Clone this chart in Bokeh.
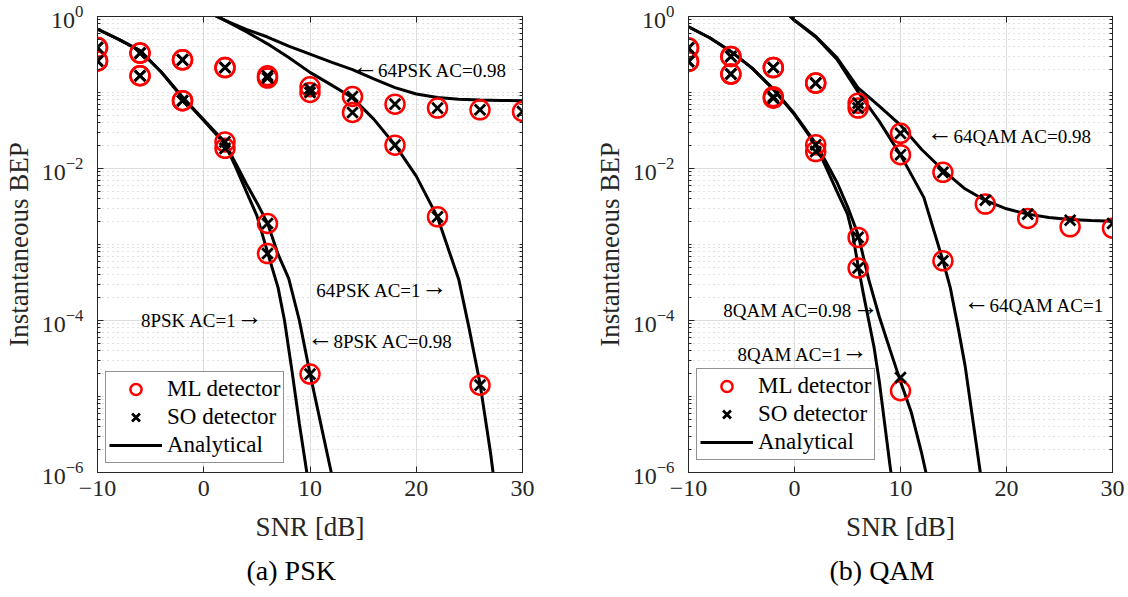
from bokeh.plotting import figure
from bokeh.models import (FixedTicker, LinearAxis, LogAxis, Legend, LegendItem,
                          Label, ColumnDataSource, Range1d, Title)
from bokeh.layouts import row
from bokeh.embed import file_html
from bokeh.resources import INLINE

FONT = "Liberation Serif"
AX = "#262626"

# ---------------- ticks ----------------
x_ticks = [-10, 0, 10, 20, 30]
y_ticks = [1e-6, 1e-4, 1e-2, 1e0]
y_minor = [m * 10.0 ** k for k in range(-6, 0) for m in range(1, 10)
           if not (m == 1 and k % 2 == 0)]

# ---------------- (a) PSK : analytical curves ----------------
psk8_ac1_snr = [-10, -8, -6, -4, -2, 0, 2, 3, 4, 5, 6, 7, 7.6, 8.3, 9, 9.7, 10.2]
psk8_ac1_bep = [0.682, 0.501, 0.355, 0.186, 0.0851, 0.0427, 0.0209, 0.0105, 5.01e-3,
                2.40e-3, 7.94e-4, 2.69e-4, 1.0e-4, 2.19e-5, 4.37e-6, 1.0e-6, 3.16e-7]
psk8_ac098_snr = [-10, -8, -6, -4, -2, 0, 2, 3, 4, 5, 6, 7, 8, 9, 10, 11, 12, 12.5]
psk8_ac098_bep = [0.682, 0.501, 0.355, 0.186, 0.0871, 0.0437, 0.0219, 0.0117, 6.31e-3,
                  3.55e-3, 1.91e-3, 7.41e-4, 3.55e-4, 1.0e-4, 2.0e-5, 4.47e-6, 1.0e-6, 4.47e-7]
psk64_ac1_snr = [1.0, 2, 4, 6, 8, 10, 12, 14, 16, 18, 20, 22, 24, 25, 26, 27, 27.5]
psk64_ac1_bep = [1.04, 0.891, 0.631, 0.437, 0.288, 0.184, 0.126, 0.0851, 0.0447, 0.0204,
                 7.94e-3, 2.29e-3, 3.47e-4, 7.59e-5, 1.48e-5, 1.78e-6, 5.01e-7]
psk64_ac098_snr = [1.0, 2, 4, 6, 8, 10, 12, 14, 16, 18, 20, 22, 24, 26, 28, 30]
psk64_ac098_bep = [1.04, 0.891, 0.676, 0.537, 0.407, 0.320, 0.251, 0.200, 0.151, 0.116,
                   0.0955, 0.0859, 0.0813, 0.0794, 0.0785, 0.0778]

# ---------------- (a) PSK : simulated points ----------------
psk8_ac1_sim_snr = [-10, -6, -2, 2, 6]
psk8_ac1_ml = [0.39, 0.33, 0.078, 0.0184, 7.6e-4]
psk8_ac1_so = [0.39, 0.33, 0.078, 0.0184, 7.6e-4]
psk8_ac098_sim_snr = [-10, -6, -2, 2, 6, 10]
psk8_ac098_ml = [0.39, 0.33, 0.078, 0.0224, 1.89e-3, 1.97e-5]
psk8_ac098_so = [0.39, 0.33, 0.078, 0.0224, 1.89e-3, 1.97e-5]
psk64_ac1_sim_snr = [-10, -6, -2, 2, 6, 10, 14, 18, 22, 26]
psk64_ac1_ml = [0.26, 0.166, 0.269, 0.213, 0.155, 0.100, 0.0546, 0.0203, 2.31e-3, 1.41e-5]
psk64_ac1_so = [0.26, 0.166, 0.269, 0.213, 0.155, 0.100, 0.0546, 0.0203, 2.31e-3, 1.41e-5]
psk64_ac098_sim_snr = [-10, -6, -2, 2, 6, 10, 14, 18, 22, 26, 30]
psk64_ac098_ml = [0.26, 0.166, 0.269, 0.213, 0.166, 0.119, 0.0886, 0.0703, 0.0623, 0.0592, 0.0562]
psk64_ac098_so = [0.26, 0.166, 0.269, 0.213, 0.166, 0.112, 0.0886, 0.0703, 0.0623, 0.0592, 0.0562]

# ---------------- (b) QAM : analytical curves ----------------
qam8_ac1_snr = [-10, -8, -6, -4, -2, 0, 2, 3, 4, 5, 5.5, 6, 6.5, 7, 7.5, 8, 8.5, 9, 9.5]
qam8_ac1_bep = [0.731, 0.525, 0.347, 0.209, 0.110, 0.0513, 0.0204, 0.0102, 5.01e-3, 2.51e-3,
                1.32e-3, 5.25e-4, 2.24e-4, 1.0e-4, 4.47e-5, 1.58e-5, 4.47e-6, 1.26e-6, 3.98e-7]
qam8_ac098_snr = [-10, -8, -6, -4, -2, 0, 2, 3, 4, 5, 6, 7, 8, 9, 10, 11, 12, 12.4, 13]
qam8_ac098_bep = [0.731, 0.525, 0.347, 0.209, 0.112, 0.0525, 0.0214, 0.0120, 6.61e-3, 3.16e-3,
                  1.35e-3, 3.47e-4, 1.12e-4, 4.17e-5, 1.58e-5, 6.31e-6, 1.78e-6, 1.0e-6, 3.98e-7]
qam64_ac1_snr = [-0.6, 0, 2, 4, 6, 8, 10, 12.2, 14, 14.7, 15.5, 16.1, 17.5, 17.9]
qam64_ac1_bep = [1.07, 0.891, 0.537, 0.275, 0.102, 0.0417, 0.0151, 4.17e-3, 6.17e-4, 2.69e-4,
                 7.24e-5, 2.51e-5, 1.07e-6, 3.98e-7]
qam64_ac098_snr = [-0.6, 0, 2, 4, 6, 8, 10, 12, 14, 16, 18, 20, 22, 24, 26, 28, 30]
qam64_ac098_bep = [1.07, 0.891, 0.550, 0.288, 0.115, 0.0661, 0.0372, 0.0178, 9.55e-3, 5.50e-3,
                   3.80e-3, 2.95e-3, 2.51e-3, 2.26e-3, 2.14e-3, 2.07e-3, 2.02e-3]

# ---------------- (b) QAM : simulated points ----------------
qam8_ac1_sim_snr = [-10, -6, -2, 2, 6]
qam8_ac1_ml = [0.384, 0.298, 0.084, 0.0167, 4.9e-4]
qam8_ac1_so = [0.384, 0.298, 0.084, 0.0167, 4.9e-4]
qam8_ac098_sim_snr = [-10, -6, -2, 2, 6, 10]
qam8_ac098_ml = [0.384, 0.298, 0.088, 0.0205, 1.24e-3, 1.19e-5]
qam8_ac098_so = [0.384, 0.298, 0.088, 0.0205, 1.24e-3, 1.78e-5]
qam64_ac1_sim_snr = [-10, -6, -2, 2, 6, 10, 14]
qam64_ac1_ml = [0.256, 0.175, 0.213, 0.133, 0.0623, 0.0152, 6.1e-4]
qam64_ac1_so = [0.256, 0.175, 0.213, 0.133, 0.0623, 0.0152, 6.1e-4]
qam64_ac098_sim_snr = [-10, -6, -2, 2, 6, 10, 14, 18, 22, 26, 30]
qam64_ac098_ml = [0.256, 0.175, 0.213, 0.133, 0.0724, 0.029, 8.9e-3, 3.4e-3, 2.2e-3, 1.71e-3, 1.64e-3]
qam64_ac098_so = [0.256, 0.175, 0.213, 0.133, 0.0724, 0.029, 8.9e-3, 3.84e-3, 2.51e-3, 2.09e-3, 1.89e-3]

# ---------------- annotation texts: (text, text_x, arrow_x, y, arrow side) ----------------
psk_notes = [("64PSK AC=0.98", 16.4, 14.0, 0.193, "left"),
             ("64PSK AC=1", 20.5, 22.93, 2.46e-4, "right"),
             ("8PSK AC=1", 3.1, 5.55, 1.01e-4, "right"),
             ("8PSK AC=0.98", 12.2, 9.77, 5.3e-5, "left")]
qam_notes = [("64QAM AC=0.98", 15.0, 12.5, 0.0261, "left"),
             ("64QAM AC=1", 18.4, 15.97, 1.56e-4, "left"),
             ("8QAM AC=0.98", 5.45, 7.95, 1.34e-4, "right"),
             ("8QAM AC=1", 4.55, 6.92, 3.61e-5, "right")]


def make_panel(curves, sims, notes, subtitle, width, left, right, leg_loc, sub_off):
    p = figure(width=width, height=597, x_range=Range1d(-10, 30), y_range=Range1d(1e-6, 1),
               y_axis_type="log", output_backend="svg", toolbar_location=None,
               min_border_left=left, min_border_right=right, min_border_top=16,
               min_border_bottom=125, background_fill_color="white",
               border_fill_color="white")
    p.outline_line_color = AX
    p.outline_line_width = 1
    p.outline_line_alpha = 1

    xt = FixedTicker(ticks=x_ticks)
    yt = FixedTicker(ticks=y_ticks, minor_ticks=y_minor)
    p.xaxis.ticker = xt
    p.yaxis.ticker = yt
    p.xgrid.ticker = xt
    p.ygrid.ticker = yt

    p.xgrid.grid_line_color = "#dedede"
    p.ygrid.grid_line_color = "#dedede"
    p.ygrid.minor_grid_line_color = "#c4c4c4"
    p.ygrid.minor_grid_line_dash = "1 4"
    p.ygrid.minor_grid_line_width = 1

    for ax in (p.xaxis[0], p.yaxis[0]):
        ax.axis_line_color = AX
        ax.major_tick_line_color = AX
        ax.minor_tick_line_color = AX
        ax.major_tick_in = 6
        ax.major_tick_out = 0
        ax.minor_tick_in = 3
        ax.minor_tick_out = 0
        ax.major_label_text_font = FONT
        ax.major_label_text_font_size = "24px"
        ax.major_label_text_color = AX
        ax.axis_label_text_font = FONT
        ax.axis_label_text_font_size = "27px"
        ax.axis_label_text_font_style = "normal"
        ax.axis_label_text_color = AX
    p.xaxis.minor_tick_line_color = None
    p.xaxis.axis_label = "SNR [dB]"
    p.xaxis.major_label_standoff = 8
    p.xaxis.axis_label_standoff = 13
    p.yaxis.axis_label = "Instantaneous BEP"
    p.yaxis.major_label_standoff = 14
    p.yaxis.axis_label_standoff = 5

    top = LinearAxis(ticker=xt, major_label_text_font_size="1px", major_label_text_alpha=0,
                     major_label_standoff=0, major_tick_in=6, major_tick_out=0,
                     minor_tick_line_color=None, axis_line_color=AX,
                     major_tick_line_color=AX)
    rgt = LogAxis(ticker=yt, major_label_text_font_size="1px", major_label_text_alpha=0,
                  major_label_standoff=0, major_tick_in=6, major_tick_out=0,
                  minor_tick_in=3, minor_tick_out=0, axis_line_color=AX,
                  major_tick_line_color=AX, minor_tick_line_color=AX)
    p.add_layout(top, "above")
    p.add_layout(rgt, "right")

    line_rs = []
    for xs, ys in curves:
        line_rs.append(p.line(xs, ys, line_color="black", line_width=3))

    mx, my, sx, sy = [], [], [], []
    for xs, ml, so in sims:
        mx += xs
        my += ml
        sx += xs
        sy += so
    ml_src = ColumnDataSource(dict(snr=mx, bep=my))
    so_src = ColumnDataSource(dict(snr=sx, bep=sy))
    r_ml = p.scatter("snr", "bep", source=ml_src, marker="circle", size=19,
                     fill_color=None, line_color="#ff0000", line_width=2.5)
    r_so = p.scatter("snr", "bep", source=so_src, marker="x", size=15,
                     line_color="black", line_width=2.8)

    for text, tx, axx, y, side in notes:
        if side == "left":
            arrow, t_align = "\u2190", "left"
        else:
            arrow, t_align = "\u2192", "right"
        p.add_layout(Label(x=tx, y=y, text=text, text_align=t_align, text_baseline="middle",
                           text_font=FONT, text_font_size="19px", text_color="black"))
        p.add_layout(Label(x=axx, y=y, y_offset=4, text=arrow, text_align=t_align,
                           text_baseline="middle", text_font=FONT, text_font_size="26px",
                           text_color="black"))

    legend = Legend(items=[LegendItem(label="ML detector", renderers=[r_ml]),
                           LegendItem(label="SO detector", renderers=[r_so]),
                           LegendItem(label="Analytical", renderers=[line_rs[0]])],
                    location=leg_loc, glyph_width=53, glyph_height=28, label_height=28,
                    spacing=0, padding=3, margin=0, label_standoff=5,
                    label_text_font=FONT, label_text_font_size="23px",
                    label_text_color="black", border_line_color=AX, border_line_width=1,
                    background_fill_color="white", background_fill_alpha=1)
    p.add_layout(legend)

    sub = Title(text=subtitle, align="left", offset=sub_off, text_font=FONT,
                text_font_size="28px", text_font_style="normal", text_color="black",
                standoff=17)
    p.add_layout(sub, "below")
    return p


p1 = make_panel(
    [(psk8_ac1_snr, psk8_ac1_bep), (psk8_ac098_snr, psk8_ac098_bep),
     (psk64_ac1_snr, psk64_ac1_bep), (psk64_ac098_snr, psk64_ac098_bep)],
    [(psk8_ac1_sim_snr, psk8_ac1_ml, psk8_ac1_so),
     (psk8_ac098_sim_snr, psk8_ac098_ml, psk8_ac098_so),
     (psk64_ac1_sim_snr, psk64_ac1_ml, psk64_ac1_so),
     (psk64_ac098_sim_snr, psk64_ac098_ml, psk64_ac098_so)],
    psk_notes, "(a) PSK", 580, 96, 58, (8, 9), 149)

p2 = make_panel(
    [(qam8_ac1_snr, qam8_ac1_bep), (qam8_ac098_snr, qam8_ac098_bep),
     (qam64_ac1_snr, qam64_ac1_bep), (qam64_ac098_snr, qam64_ac098_bep)],
    [(qam8_ac1_sim_snr, qam8_ac1_ml, qam8_ac1_so),
     (qam8_ac098_sim_snr, qam8_ac098_ml, qam8_ac098_so),
     (qam64_ac1_sim_snr, qam64_ac1_ml, qam64_ac1_so),
     (qam64_ac098_sim_snr, qam64_ac098_ml, qam64_ac098_so)],
    qam_notes, "(b) QAM", 548, 108, 16, (8, 12), 141)

layout = row(p1, p2)
open("out.html", "w").write(file_html(layout, INLINE))
